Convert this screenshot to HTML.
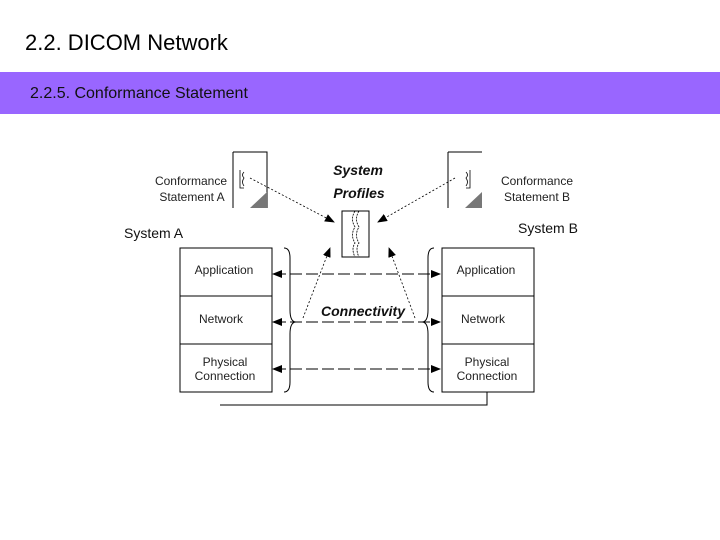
<!DOCTYPE html>
<html><head><style>
body{margin:0;width:720px;height:540px;background:#fff;position:relative;overflow:hidden;font-family:"Liberation Sans",sans-serif}
.t{position:absolute;left:25px;top:30px;font-size:22px;color:#000}
.band{position:absolute;left:0;top:72px;width:720px;height:42px;background:#9966ff}
.band span{position:absolute;left:30px;top:13px;font-size:16px;color:#111}
</style></head><body>
<div class="t">2.2. DICOM Network</div>
<div class="band"><span>2.2.5. Conformance Statement</span></div>
<svg width="720" height="540" style="position:absolute;left:0;top:0" font-family="Liberation Sans,sans-serif">
<defs><marker id="a" markerWidth="10" markerHeight="8" refX="9" refY="4" orient="auto" markerUnits="userSpaceOnUse"><path d="M0,0L10,4L0,8z" fill="#000"/></marker></defs>
<g stroke="#000" fill="none" stroke-width="1">
<path d="M233,152H267V208M233,152V208"/>
<path d="M448,152H482M448,152V208"/>
<path d="M342,211H369V257H342Z"/>
<path d="M244,172q-3,3 0,6q-3,4 0,8M240,170v18h4" stroke-width="0.8"/>
<path d="M466,172q3,3 0,6q3,4 0,8M470,170v18h-4" stroke-width="0.8"/>
<path d="M355,211q-5,8 0,16q-5,8 0,16q-4,6 0,14M359,211q-5,8 0,16q-5,8 0,16q-4,6 0,14" stroke-width="0.8" stroke-dasharray="2,1"/>
<rect x="180" y="248" width="92" height="144"/><path d="M180,296H272M180,344H272"/>
<rect x="442" y="248" width="92" height="144"/><path d="M442,296H534M442,344H534"/>
<path d="M284,248q6,0 6,10V310q0,12 6,12q-6,0 -6,12V382q0,10 -6,10"/>
<path d="M434,248q-6,0 -6,10V310q0,12 -6,12q6,0 6,12V382q0,10 6,10"/>
<path d="M220,405H487V392"/>
</g>
<g stroke="#000" stroke-width="0.8" fill="none" stroke-dasharray="2,2">
<line x1="250" y1="178" x2="334" y2="222" marker-end="url(#a)"/>
<line x1="455" y1="178" x2="378" y2="222" marker-end="url(#a)"/>
<line x1="303" y1="318" x2="330" y2="248" marker-end="url(#a)"/>
<line x1="415" y1="318" x2="389" y2="248" marker-end="url(#a)"/>
</g>
<g stroke="#000" stroke-width="1" fill="none" stroke-dasharray="10,6">
<line x1="430" y1="274" x2="273" y2="274" marker-end="url(#a)"/><line x1="290" y1="274" x2="440" y2="274" marker-end="url(#a)"/>
<line x1="430" y1="322" x2="273" y2="322" marker-end="url(#a)"/><line x1="290" y1="322" x2="440" y2="322" marker-end="url(#a)"/>
<line x1="430" y1="369" x2="273" y2="369" marker-end="url(#a)"/><line x1="290" y1="369" x2="440" y2="369" marker-end="url(#a)"/>
</g>
<path d="M250,208L267,208L267,192Z" fill="#777"/>
<path d="M465,208L482,208L482,192Z" fill="#777"/>
<g font-size="12" fill="#222" text-anchor="middle">
<text x="191" y="185">Conformance</text><text x="192" y="201">Statement A</text>
<text x="537" y="185">Conformance</text><text x="537" y="201">Statement B</text>
<text x="224" y="274">Application</text><text x="221" y="323">Network</text>
<text x="225" y="366">Physical</text><text x="225" y="380">Connection</text>
<text x="486" y="274">Application</text><text x="483" y="323">Network</text>
<text x="487" y="366">Physical</text><text x="487" y="380">Connection</text>
</g>
<g font-size="14" fill="#111"><text x="124" y="238">System A</text><text x="518" y="233">System B</text></g>
<g font-size="14" font-weight="bold" font-style="italic" fill="#111" text-anchor="middle">
<text x="358" y="175">System</text><text x="359" y="198">Profiles</text><text x="363" y="316">Connectivity</text>
</g>
</svg>
</body></html>
